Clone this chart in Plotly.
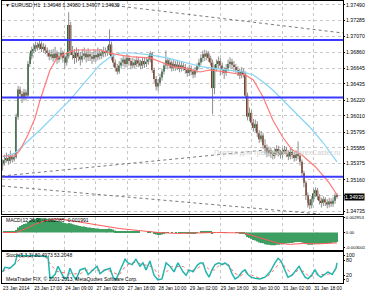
import plotly.graph_objects as go

# ---------------- data (EURUSD H1) ----------------
opens = [1.3535, 1.3538, 1.3542, 1.3545, 1.3541, 1.3547, 1.3543, 1.3546, 1.3600, 1.3636,
         1.3630, 1.3625, 1.3632, 1.3628, 1.3670, 1.3680, 1.3688, 1.3690, 1.3695, 1.3692,
         1.3697, 1.3690, 1.3693, 1.3688, 1.3685, 1.3680, 1.3683, 1.3678, 1.3684, 1.3676,
         1.3680, 1.3685, 1.3678, 1.3672, 1.3680, 1.3722, 1.3688, 1.3682, 1.3678, 1.3685,
         1.3680, 1.3676, 1.3681, 1.3684, 1.3679, 1.3683, 1.3680, 1.3677, 1.3682, 1.3679,
         1.3684, 1.3681, 1.3684, 1.3687, 1.3685, 1.3688, 1.3696, 1.3680, 1.3672, 1.3665,
         1.3660, 1.3668, 1.3672, 1.3676, 1.3670, 1.3678, 1.3674, 1.3668, 1.3672, 1.3670,
         1.3675, 1.3671, 1.3668, 1.3674, 1.3670, 1.3673, 1.3676, 1.3684, 1.3662, 1.3650,
         1.3640, 1.3645, 1.3652, 1.3660, 1.3668, 1.3675, 1.3668, 1.3672, 1.3665, 1.3670,
         1.3666, 1.3669, 1.3664, 1.3668, 1.3666, 1.3662, 1.3658, 1.3664, 1.3660, 1.3656,
         1.3662, 1.3667, 1.3672, 1.3678, 1.3683, 1.3680, 1.3684, 1.3678, 1.3672, 1.3638,
         1.3664, 1.3670, 1.3674, 1.3668, 1.3662, 1.3658, 1.3664, 1.3670, 1.3673, 1.3669,
         1.3666, 1.3662, 1.3659, 1.3655, 1.3660, 1.3656, 1.3628, 1.3600, 1.3605, 1.3592,
         1.3585, 1.3590, 1.3578, 1.3570, 1.3575, 1.3562, 1.3558, 1.3552, 1.3555, 1.3550,
         1.3548, 1.3553, 1.3557, 1.3552, 1.3549, 1.3554, 1.3556, 1.3551, 1.3547, 1.3553,
         1.3549, 1.3545, 1.3550, 1.3548, 1.3540, 1.3525, 1.3512, 1.3495, 1.3485, 1.3482,
         1.3490, 1.3498, 1.3502, 1.3494, 1.3488, 1.3485, 1.3490, 1.3486, 1.3483, 1.3487,
         1.3484, 1.3488, 1.34948]
highs = [1.3543, 1.3549, 1.3552, 1.3550, 1.3555, 1.3550, 1.3551, 1.3604, 1.3641, 1.3640,
         1.3634, 1.3637, 1.3636, 1.3674, 1.3685, 1.3693, 1.3697, 1.3700, 1.3699, 1.3702,
         1.3700, 1.3698, 1.3696, 1.3692, 1.3689, 1.3689, 1.3690, 1.3693, 1.3688, 1.3686,
         1.3692, 1.3688, 1.3682, 1.3686, 1.3739, 1.3726, 1.3694, 1.3690, 1.3692, 1.3690,
         1.3686, 1.3690, 1.3692, 1.3688, 1.3691, 1.3688, 1.3686, 1.3690, 1.3688, 1.3692,
         1.3690, 1.3690, 1.3693, 1.3692, 1.3694, 1.3716, 1.3700, 1.3684, 1.3676, 1.3670,
         1.3674, 1.3678, 1.3682, 1.3680, 1.3684, 1.3682, 1.3678, 1.3678, 1.3677, 1.3680,
         1.3679, 1.3676, 1.3679, 1.3678, 1.3678, 1.3681, 1.3687, 1.3686, 1.3665, 1.3654,
         1.3650, 1.3657, 1.3664, 1.3672, 1.3688, 1.3678, 1.3677, 1.3675, 1.3675, 1.3674,
         1.3674, 1.3673, 1.3673, 1.3672, 1.3670, 1.3666, 1.3669, 1.3668, 1.3664, 1.3666,
         1.3671, 1.3677, 1.3683, 1.3688, 1.3689, 1.3688, 1.3687, 1.3681, 1.3676, 1.3669,
         1.3676, 1.3680, 1.3678, 1.3672, 1.3666, 1.3670, 1.3676, 1.3679, 1.3677, 1.3674,
         1.3670, 1.3667, 1.3664, 1.3666, 1.3664, 1.3660, 1.3632, 1.3612, 1.3609, 1.3597,
         1.3596, 1.3594, 1.3582, 1.3581, 1.3578, 1.3570, 1.3563, 1.3560, 1.3559, 1.3555,
         1.3558, 1.3562, 1.3561, 1.3556, 1.3559, 1.3561, 1.3560, 1.3555, 1.3558, 1.3557,
         1.3553, 1.3555, 1.3567, 1.3552, 1.3543, 1.3528, 1.3515, 1.3499, 1.3490, 1.3494,
         1.3504, 1.3506, 1.3505, 1.3497, 1.3492, 1.3494, 1.3493, 1.3490, 1.3492, 1.3491,
         1.3493, 1.3498, 1.34980]
lows = [1.3528, 1.3535, 1.3539, 1.3536, 1.3538, 1.3539, 1.3540, 1.3544, 1.3596, 1.3624,
        1.3618, 1.3621, 1.3622, 1.3625, 1.3666, 1.3676, 1.3684, 1.3686, 1.3688, 1.3689,
        1.3686, 1.3685, 1.3683, 1.3680, 1.3675, 1.3676, 1.3673, 1.3675, 1.3670, 1.3672,
        1.3676, 1.3672, 1.3664, 1.3668, 1.3677, 1.3682, 1.3676, 1.3670, 1.3672, 1.3674,
        1.3668, 1.3672, 1.3676, 1.3672, 1.3674, 1.3674, 1.3670, 1.3673, 1.3673, 1.3675,
        1.3676, 1.3677, 1.3679, 1.3680, 1.3681, 1.3682, 1.3675, 1.3666, 1.3660, 1.3656,
        1.3657, 1.3664, 1.3667, 1.3665, 1.3666, 1.3668, 1.3663, 1.3664, 1.3665, 1.3666,
        1.3666, 1.3663, 1.3664, 1.3665, 1.3666, 1.3669, 1.3672, 1.3658, 1.3645, 1.3635,
        1.3634, 1.3641, 1.3648, 1.3656, 1.3664, 1.3663, 1.3664, 1.3660, 1.3661, 1.3661,
        1.3662, 1.3659, 1.3660, 1.3661, 1.3657, 1.3653, 1.3654, 1.3655, 1.3651, 1.3652,
        1.3658, 1.3663, 1.3668, 1.3673, 1.3674, 1.3675, 1.3673, 1.3668, 1.3603, 1.3630,
        1.3660, 1.3664, 1.3655, 1.3656, 1.3650, 1.3654, 1.3660, 1.3665, 1.3664, 1.3660,
        1.3657, 1.3654, 1.3650, 1.3651, 1.3652, 1.3624, 1.3595, 1.3594, 1.3588, 1.3580,
        1.3580, 1.3573, 1.3565, 1.3566, 1.3557, 1.3550, 1.3546, 1.3548, 1.3545, 1.3543,
        1.3544, 1.3549, 1.3547, 1.3544, 1.3545, 1.3550, 1.3546, 1.3542, 1.3543, 1.3544,
        1.3540, 1.3541, 1.3543, 1.3535, 1.3520, 1.3506, 1.3489, 1.3479, 1.3477, 1.3478,
        1.3486, 1.3493, 1.3489, 1.3483, 1.3479, 1.3481, 1.3481, 1.3478, 1.3479, 1.3480,
        1.3480, 1.3484, 1.34907]
closes = [1.3538, 1.3542, 1.3545, 1.3541, 1.3547, 1.3543, 1.3546, 1.3600, 1.3636, 1.3630,
          1.3625, 1.3632, 1.3628, 1.3670, 1.3680, 1.3688, 1.3690, 1.3695, 1.3692, 1.3697,
          1.3690, 1.3693, 1.3688, 1.3685, 1.3680, 1.3683, 1.3678, 1.3684, 1.3676, 1.3680,
          1.3685, 1.3678, 1.3672, 1.3680, 1.3722, 1.3688, 1.3682, 1.3678, 1.3685, 1.3680,
          1.3676, 1.3681, 1.3684, 1.3679, 1.3683, 1.3680, 1.3677, 1.3682, 1.3679, 1.3684,
          1.3681, 1.3684, 1.3687, 1.3685, 1.3688, 1.3696, 1.3680, 1.3672, 1.3665, 1.3660,
          1.3668, 1.3672, 1.3676, 1.3670, 1.3678, 1.3674, 1.3668, 1.3672, 1.3670, 1.3675,
          1.3671, 1.3668, 1.3674, 1.3670, 1.3673, 1.3676, 1.3684, 1.3662, 1.3650, 1.3640,
          1.3645, 1.3652, 1.3660, 1.3668, 1.3675, 1.3668, 1.3672, 1.3665, 1.3670, 1.3666,
          1.3669, 1.3664, 1.3668, 1.3666, 1.3662, 1.3658, 1.3664, 1.3660, 1.3656, 1.3662,
          1.3667, 1.3672, 1.3678, 1.3683, 1.3680, 1.3684, 1.3678, 1.3672, 1.3638, 1.3664,
          1.3670, 1.3674, 1.3668, 1.3662, 1.3658, 1.3664, 1.3670, 1.3673, 1.3669, 1.3666,
          1.3662, 1.3659, 1.3655, 1.3660, 1.3656, 1.3628, 1.3600, 1.3605, 1.3592, 1.3585,
          1.3590, 1.3578, 1.3570, 1.3575, 1.3562, 1.3558, 1.3552, 1.3555, 1.3550, 1.3548,
          1.3553, 1.3557, 1.3552, 1.3549, 1.3554, 1.3556, 1.3551, 1.3547, 1.3553, 1.3549,
          1.3545, 1.3550, 1.3548, 1.3540, 1.3525, 1.3512, 1.3495, 1.3485, 1.3482, 1.3490,
          1.3498, 1.3502, 1.3494, 1.3488, 1.3485, 1.3490, 1.3486, 1.3483, 1.3487, 1.3484,
          1.3488, 1.3495, 1.34939]

# moving averages (read at sample bars)
ma_fast_x = [0, 6.4, 9, 13, 16.7, 19.3, 24.4, 28, 33, 38, 50, 55, 60, 67, 76, 81, 88, 93,
             101.6, 107, 115, 125, 129, 134, 139, 144, 149, 154, 161, 168, 172]
ma_fast_y = [1.35476, 1.35476, 1.35556, 1.35756, 1.35982, 1.36222, 1.36621, 1.36781, 1.36847,
             1.36887, 1.36887, 1.36847, 1.36821, 1.36794, 1.36781, 1.36727, 1.36661, 1.36648,
             1.36594, 1.36621, 1.36594, 1.36554, 1.36488, 1.36262, 1.35956, 1.35729, 1.35556,
             1.35490, 1.35330, 1.35117, 1.34960]
ma_slow_x = [0, 6.4, 19.3, 34.7, 43.4, 50, 55.3, 60.4, 67, 75.8, 84.6, 93, 103, 115, 123.7,
             129, 134, 139, 144, 151, 158, 165, 172]
ma_slow_y = [1.35463, 1.35516, 1.35822, 1.36222, 1.36488, 1.36688, 1.36794, 1.36847, 1.36847,
             1.36821, 1.36781, 1.36727, 1.36661, 1.36621, 1.36594, 1.36554, 1.36461, 1.36355,
             1.36222, 1.36049, 1.35862, 1.35649, 1.35397]

# horizontal levels and trend lines
levels = [1.37020, 1.36255, 1.35201]
trend_a_x, trend_a_y = [55.3, 175.1], [1.37486, 1.37113]
trend_b_x, trend_b_y = [-0.3, 135.5], [1.35210, 1.35556]
trend_c_x, trend_c_y = [-0.3, 163.3], [1.35077, 1.34704]

# MACD(12,26,9)
macd_main = [0.0000, 0.0001, 0.0001, 0.0001, 0.0001, 0.0001, 0.0001, 0.0005, 0.0010, 0.0013,
             0.0015, 0.0017, 0.0018, 0.0021, 0.0024, 0.0026, 0.0027, 0.0028, 0.0029, 0.0029,
             0.0029, 0.0029, 0.0028, 0.0028, 0.0027, 0.0026, 0.0025, 0.0024, 0.0023, 0.0022,
             0.0021, 0.0020, 0.0019, 0.0018, 0.0019, 0.0018, 0.0017, 0.0016, 0.0015, 0.0014,
             0.0013, 0.0012, 0.0012, 0.0011, 0.0010, 0.0010, 0.0009, 0.0009, 0.0008, 0.0008,
             0.0007, 0.0007, 0.0007, 0.0007, 0.0007, 0.0008, 0.0007, 0.0006, 0.0004, 0.0003,
             0.0002, 0.0002, 0.0002, 0.0001, 0.0002, 0.0001, 0.0001, 0.0001, 0.0001, 0.0001,
             0.0001, 0.0000, 0.0000, 0.0000, 0.0000, 0.0001, 0.0002, 0.0000, -0.0002, -0.0004,
             -0.0005, -0.0005, -0.0004, -0.0003, -0.0001, -0.0001, 0.0000, -0.0001, 0.0000, -0.0001,
             0.0000, -0.0001, -0.0001, -0.0001, -0.0001, -0.0002, -0.0002, -0.0002, -0.0002, -0.0002,
             -0.0001, 0.0000, 0.0001, 0.0002, 0.0002, 0.0002, 0.0002, 0.0001, -0.0002, -0.0001,
             0.0000, 0.0000, 0.0000, -0.0001, -0.0001, -0.0001, 0.0000, 0.0000, 0.0000, 0.0000,
             -0.0001, -0.0001, -0.0002, -0.0002, -0.0002, -0.0005, -0.0009, -0.0011, -0.0013, -0.0015,
             -0.0016, -0.0018, -0.0020, -0.0021, -0.0022, -0.0024, -0.0025, -0.0025, -0.0026, -0.0026,
             -0.0026, -0.0025, -0.0025, -0.0024, -0.0024, -0.0023, -0.0022, -0.0022, -0.0021, -0.0021,
             -0.0020, -0.0019, -0.0019, -0.0019, -0.0020, -0.0021, -0.0023, -0.0025, -0.0025, -0.0025,
             -0.0024, -0.0023, -0.0023, -0.0023, -0.0023, -0.0022, -0.0022, -0.0022, -0.0021, -0.0021,
             -0.0020, -0.0020, -0.0019]
macd_sig_x = [0, 7, 12, 17, 22, 27, 32, 40, 50, 60, 70, 80, 90, 100, 110, 124, 130, 136, 142,
              148, 155, 162, 172]
macd_sig_y = [0.0, 0.0, 0.0008, 0.0017, 0.0024, 0.0027, 0.0026, 0.0021, 0.0014, 0.0008, 0.0004,
              0.0000, -0.0002, -0.0001, 0.0000, -0.0001, -0.0008, -0.0016, -0.0022, -0.0024,
              -0.0022, -0.0023, -0.0021]

# Stochastic(5,3,3)
stoch_x = [0, 1.2, 3.8, 6.4, 7.4, 11.5, 16.7, 21.8, 23.4, 24.4, 27, 28.5, 30, 31.6, 33.1, 34.7,
           36.2, 37.8, 39.8, 42.4, 44, 46, 48.6, 50.1, 52.7, 55.3, 56.8, 58.3, 60.4, 63, 64.5,
           66.6, 68.6, 70.7, 72.2, 73.8, 75.8, 77.9, 79.9, 82, 84.1, 86.1, 88.2, 90.2, 92.8,
           94.4, 95.9, 98, 100, 101.6, 103.1, 104.6, 106.2, 107.7, 109.3, 111.3, 112.9, 114.4,
           116.5, 118, 119.6, 121.1, 123.2, 124.7, 126.2, 127.8, 129.8, 132.4, 135, 137.6, 140.1,
           141.7, 143.2, 145.3, 146.8, 148.9, 150.9, 152.5, 154, 155.6, 157.1, 159.2, 160.7,
           162.3, 163.8, 165.3, 167.4, 169.5, 171.5, 172]
stoch_main = [33, 52, 48, 67, 100, 100, 100, 96, 93, 4, 22, 56, 33, 7, 4, 48,
              19, 0, 41, 48, 22, 37, 56, 26, 41, 48, 11, 0, 41, 85, 70,
              63, 85, 56, 70, 41, 78, 19, 0, 4, 70, 56, 33, 70, 33,
              19, 41, 33, 59, 70, 70, 33, 11, 41, 63, 70, 63, 70,
              56, 26, 4, 11, 33, 41, 22, 11, 7, 4, 11, 33, 70,
              89, 78, 41, 11, 19, 41, 56, 33, 11, 4, 22, 41,
              19, 11, 19, 33, 22, 48, 70]
stoch_sig_x = [0, 3, 7, 10, 22, 25, 28, 31, 34, 37, 40, 43, 47, 50, 54, 57, 60, 63, 66, 69, 72,
               75, 78, 81, 84, 87, 90, 93, 96, 100, 103, 106, 109, 112, 116, 119, 122, 125, 128,
               132, 136, 140, 143, 146, 149, 152, 155, 158, 161, 164, 167, 170, 172]
stoch_sig = [35, 45, 70, 95, 97, 60, 35, 30, 25, 25, 25, 40, 40, 40, 40, 30, 20, 55, 70, 72, 62,
             60, 45, 10, 30, 55, 55, 55, 35, 45, 65, 45, 40, 65, 65, 30, 15, 30, 20,
             7, 12, 45, 75, 45, 20, 40, 35, 10, 25, 22, 22, 30, 50]

# axis labels
price_ticks = [1.37490, 1.37285, 1.37070, 1.36860, 1.36645, 1.36435, 1.36220, 1.36010,
               1.35795, 1.35585, 1.35375, 1.35160, 1.34950, 1.34735]
price_labels = ["1.37490", "1.37285", "1.37070", "1.36860", "1.36645", "1.36435", "1.36220",
                "1.36010", "1.35795", "1.35585", "1.35375", "1.35160", "", "1.34735"]
macd_ticks = [0.002953, 0.0, -0.003001]
macd_labels = ["0.002953", "0.00", "-0.003001"]
stoch_ticks = [100, 80, 20, 0]
stoch_labels = ["100", "80", "20", "0"]
time_ticks = [0, 16, 32, 48, 64, 80, 96, 112, 128, 144, 160]
time_labels = ["23 Jan 2014", "23 Jan 17:00", "24 Jan 09:00", "27 Jan 02:00", "27 Jan 18:00",
               "28 Jan 10:00", "29 Jan 02:00", "29 Jan 18:00", "30 Jan 10:00", "31 Jan 02:00",
               "31 Jan 18:00"]
last_price = "1.34939"

# ---------------- layout helpers ----------------
W, H = 366, 293
ML, MR, MT, MB = 2, 23, 1, 10
PW, PH = W - ML - MR, H - MT - MB


def px_x(x):
    return (x - ML) / PW


def px_y(y):
    return (H - MB - y) / PH


FONT = "Liberation Sans"
BULL, BEAR = "#2f6b3a", "#8a3b1c"
XR = [-0.3, 175.1]

fig = go.Figure()

# candles: wicks + bodies
wx, wy = [], []
for i in range(len(closes)):
    wx += [i, i, None]
    wy += [lows[i], highs[i], None]
fig.add_trace(go.Scatter(x=wx, y=wy, mode="lines", line=dict(color="#8f8f8f", width=1),
                         xaxis="x", yaxis="y", hoverinfo="skip"))
body_base = [min(o, c) for o, c in zip(opens, closes)]
body_h = [max(abs(c - o), 0.00003) for o, c in zip(opens, closes)]
body_col = [BULL if c >= o else BEAR for o, c in zip(opens, closes)]
fig.add_trace(go.Bar(x=list(range(len(closes))), y=body_h, base=body_base, width=0.8,
                     marker=dict(color=body_col, line=dict(width=0)), xaxis="x", yaxis="y"))

# moving averages
fig.add_trace(go.Scatter(x=ma_slow_x, y=ma_slow_y, mode="lines", line=dict(color="#87d3f5", width=1.2),
                         xaxis="x", yaxis="y"))
fig.add_trace(go.Scatter(x=ma_fast_x, y=ma_fast_y, mode="lines", line=dict(color="#ff7a7a", width=1.2),
                         xaxis="x", yaxis="y"))

# horizontal levels
for lv in levels:
    fig.add_trace(go.Scatter(x=XR, y=[lv, lv], mode="lines", line=dict(color="#3a3aff", width=2),
                             xaxis="x", yaxis="y"))
# trend lines
for tx, ty in [(trend_a_x, trend_a_y), (trend_b_x, trend_b_y), (trend_c_x, trend_c_y)]:
    fig.add_trace(go.Scatter(x=tx, y=ty, mode="lines", line=dict(color="#7a7a7a", width=1, dash="dot"),
                             xaxis="x", yaxis="y"))

# MACD
fig.add_trace(go.Bar(x=list(range(len(macd_main))), y=macd_main, width=0.6,
                     marker=dict(color="#3c9e60", line=dict(width=0)), xaxis="x2", yaxis="y2"))
fig.add_trace(go.Scatter(x=macd_sig_x, y=macd_sig_y, mode="lines", line=dict(color="#ff5a5a", width=1),
                         xaxis="x2", yaxis="y2"))

# Stochastic
fig.add_trace(go.Scatter(x=stoch_sig_x, y=stoch_sig, mode="lines",
                         line=dict(color="#ff6a6a", width=1, dash="dot"), xaxis="x3", yaxis="y3"))
fig.add_trace(go.Scatter(x=stoch_x, y=stoch_main, mode="lines", line=dict(color="#22b5ad", width=1.5),
                         xaxis="x3", yaxis="y3"))

tickfont = dict(family=FONT, size=5.2, color="#000")
xcommon = dict(range=XR, showline=True, mirror=True, linecolor="#000", linewidth=1,
               showgrid=True, gridcolor="#c8c8c8", griddash="dot", gridwidth=1,
               tickvals=time_ticks, zeroline=False, fixedrange=True)
ycommon = dict(side="right", showline=True, mirror=True, linecolor="#000", linewidth=1,
               zeroline=False, ticks="outside", ticklen=1, tickcolor="#000", tickfont=tickfont,
               automargin=False)

fig.update_layout(
    width=W, height=H, margin=dict(l=ML, r=MR, t=MT, b=MB),
    paper_bgcolor="#ffffff", plot_bgcolor="#ffffff", showlegend=False, barmode="overlay",
    xaxis=dict(**xcommon, anchor="y", showticklabels=False),
    xaxis2=dict(**xcommon, anchor="y2", showticklabels=False),
    xaxis3=dict(**xcommon, anchor="y3", ticktext=time_labels, showticklabels=True, tickangle=0,
                ticklabelposition="outside right", tickfont=dict(family=FONT, size=4.8, color="#000"),
                ticks="", automargin=False),
    yaxis=dict(**ycommon, domain=[px_y(214), px_y(1)], anchor="x", range=[1.34704, 1.37539],
               tickvals=price_ticks, ticktext=price_labels, showgrid=True, gridcolor="#c8c8c8",
               griddash="dot"),
    yaxis2=dict(side="right", showline=True, mirror=True, linecolor="#000", linewidth=1,
                zeroline=False, ticks="outside", ticklen=1, tickcolor="#000", automargin=False,
                tickfont=dict(family=FONT, size=4.3, color="#000"),
                domain=[px_y(250), px_y(217)], anchor="x2", range=[-0.00354, 0.00313],
                tickvals=macd_ticks, ticktext=macd_labels, showgrid=False),
    yaxis3=dict(**ycommon, domain=[px_y(283), px_y(252)], anchor="x3", range=[-13, 115],
                tickvals=stoch_ticks, ticktext=stoch_labels, showgrid=False),
)

ann = []
ann.append(dict(text="\u25bc EURUSD,H1  1.34948 1.34980 1.34907 1.34939", x=px_x(3), y=px_y(5),
                xref="paper", yref="paper", xanchor="left", yanchor="middle", showarrow=False,
                font=dict(family=FONT, size=5, color="#000")))
ann.append(dict(text="MACD(12,26,9) -0.002085 -0.001991", x=px_x(4), y=px_y(220), xref="paper",
                yref="paper", xanchor="left", yanchor="middle", showarrow=False,
                font=dict(family=FONT, size=5, color="#000")))
ann.append(dict(text="Stoch(5,3,3) 80.4973 53.2048", x=px_x(4), y=px_y(255), xref="paper",
                yref="paper", xanchor="left", yanchor="middle", showarrow=False,
                font=dict(family=FONT, size=5, color="#000")))
ann.append(dict(text="MetaTrader FIX, \u00a9 2001-2013, MetaQuotes Software Corp.", x=px_x(4), y=px_y(279),
                xref="paper", yref="paper", xanchor="left", yanchor="middle", showarrow=False,
                font=dict(family=FONT, size=5, color="#000")))
ann.append(dict(text="Портал для трейдеров - ForexCaster.ru", x=px_x(212), y=px_y(153), xref="paper",
                yref="paper", xanchor="left", yanchor="middle", showarrow=False,
                font=dict(family=FONT, size=7, color="#cfcfcf")))
ann.append(dict(text=last_price, x=px_x(344), y=px_y(197), xref="paper", yref="paper",
                xanchor="left", yanchor="middle", showarrow=False, bgcolor="#000",
                font=dict(family=FONT, size=5.2, color="#fff"), borderpad=0))
fig.update_layout(annotations=ann)

fig.write_html("out.html")
